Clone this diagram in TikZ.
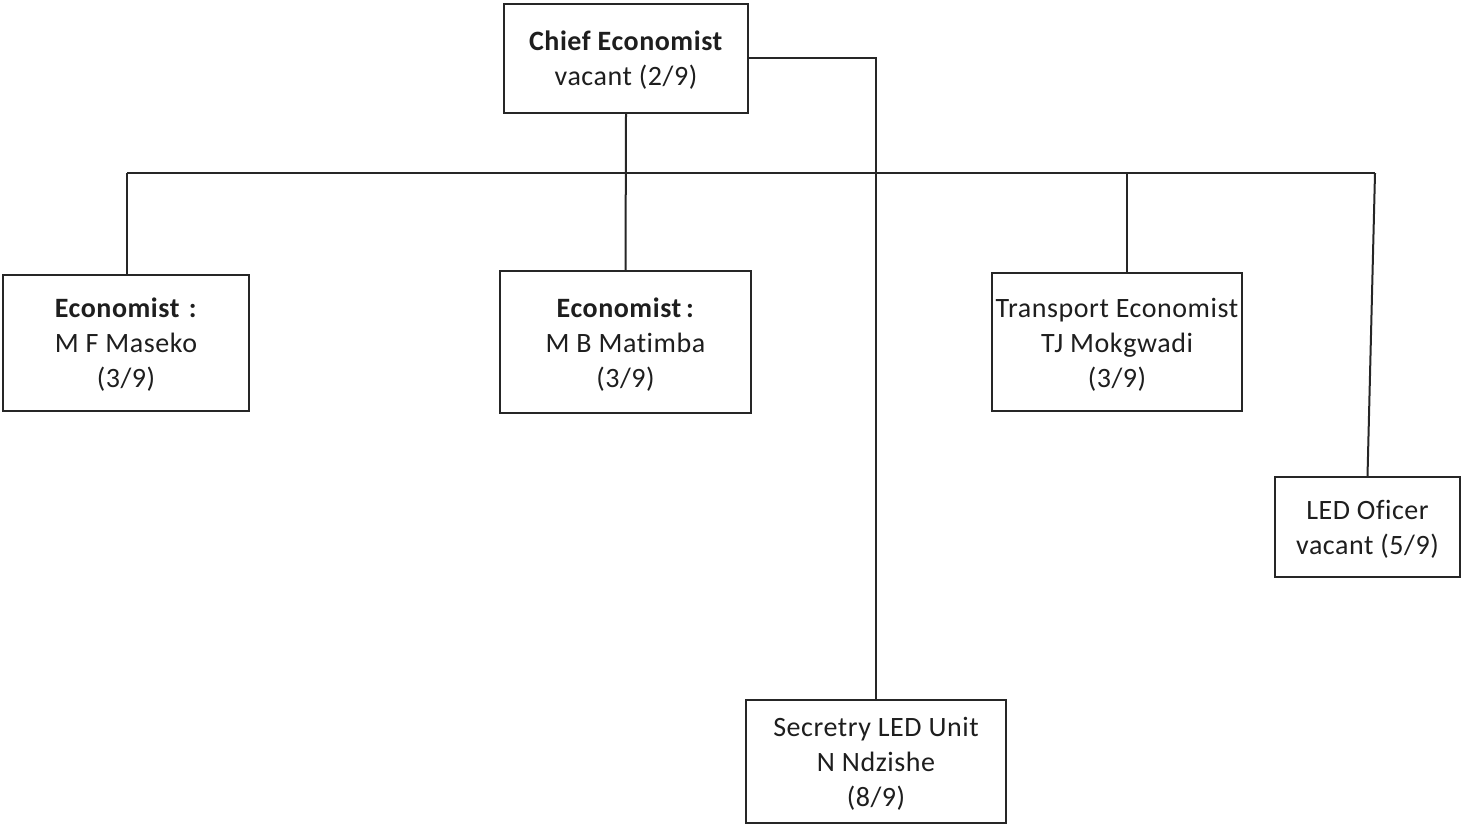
\documentclass[tikz,border=0pt]{standalone}
\usepackage{fontspec}
\setmainfont[Ligatures=NoCommon, LetterSpace=2]{Carlito}
\definecolor{ink}{HTML}{1E1E1E}
\definecolor{rule}{HTML}{262626}
\tikzset{
  post/.style={draw=rule, line width=2pt, fill=white, rectangle, inner sep=0pt},
  caption/.style={align=center, text=ink, inner sep=0pt,
    font=\fontsize{28}{35}\selectfont},
  link/.style={draw=rule, line width=2pt},
}
\begin{document}
\begin{tikzpicture}[x=1pt, y=-1pt]
  \useasboundingbox (0,0) rectangle (1461,824);

  % boxes
  \node[post, minimum width=244pt, minimum height=109pt] (chief) at (626,58.5) {};
  \node[post, minimum width=246pt, minimum height=136pt] (econA) at (126,343) {};
  \node[post, minimum width=251pt, minimum height=142pt] (econB) at (625.5,342) {};
  \node[post, minimum width=250pt, minimum height=138pt] (trans) at (1117,342) {};
  \node[post, minimum width=185pt, minimum height=100pt] (led) at (1367.5,527) {};
  \node[post, minimum width=260pt, minimum height=123pt] (sec) at (876,761) {};

  % box texts
  \node[caption] (chiefT) at ([yshift=-2pt]chief.center)
    {\textbf{Chief Economist}\\vacant (2/9)};
  \node[caption] (econAT) at ([yshift=-2pt]econA.center)
    {\textbf{Economist\,\,:}\\M F Maseko\\(3/9)};
  \node[caption] (econBT) at ([yshift=-3pt]econB.center)
    {\textbf{Economist\,:}\\M B Matimba\\(3/9)};
  \node[caption] (transT) at ([yshift=-3pt]trans.center)
    {Transport Economist\\TJ Mokgwadi\\(3/9)};
  \node[caption] (ledT) at ([yshift=-2pt]led.center)
    {LED Oficer\\vacant (5/9)};
  \node[caption] (secT) at ([yshift=-3pt]sec.center)
    {Secretry LED Unit\\N Ndzishe\\(8/9)};

  % bus line under the chief
  \coordinate (busL) at (127,173);
  \coordinate (busR) at (1375,173);
  \coordinate (busT) at (1127,173);
  \draw[link] (busL) -- (busR);

  % connectors
  \draw[link] (chief.south) -- (econB.north);
  \draw[link] (busL) -- (busL |- econA.north);
  \draw[link] (busT) -- (busT |- trans.north);
  \draw[link] (busR) -- (led.north);
  \draw[link] (chief.east) -| (sec.north);
\end{tikzpicture}
\end{document}
